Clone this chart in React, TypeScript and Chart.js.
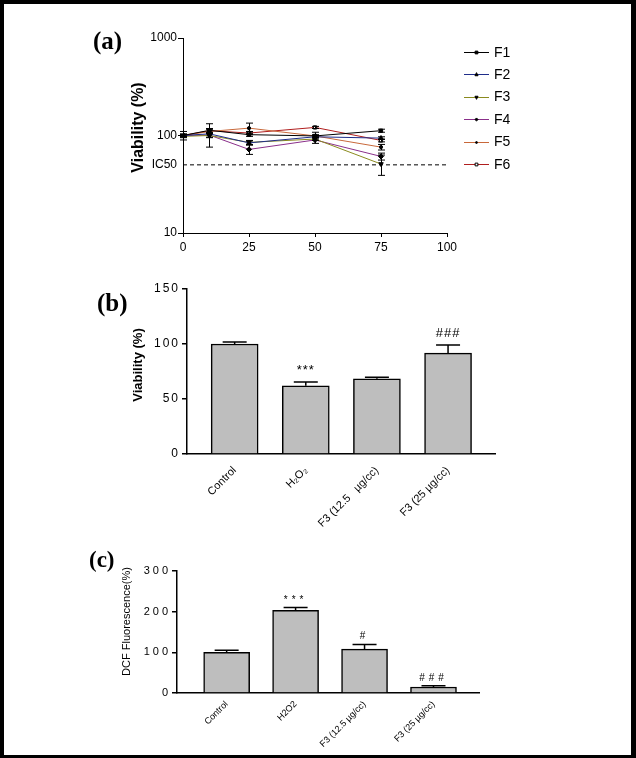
import React, { useEffect, useRef } from 'react';
import { Chart, registerables } from 'chart.js';

Chart.register(...registerables);
Chart.defaults.font.family = "'Liberation Sans', Arial, sans-serif";
Chart.defaults.color = '#000';

// ---------- Panel (a) data ----------
const doseX = [0, 10, 25, 50, 75];
const seriesNames = ['F1', 'F2', 'F3', 'F4', 'F5', 'F6'];
const f1 = [100, 113, 102, 99, 112];
const f2 = [100, 104, 84, 97, 94];
const f3 = [98, 100, 85, 92, 51];
const f4 = [100, 101, 72, 90, 61];
const f5 = [100, 110, 119, 99, 76];
const f6 = [100, 112, 106, 121, 89];
const f1Err = [10, 5, 4, 3, 4];
const f2Err = [3, 28, 4, 3, 3];
const f3Err = [3, 5, 4, 3, 12];
const f4Err = [3, 5, 8, 7, 5];
const f5Err = [3, 6, 15, 9, 5];
const f6Err = [3, 5, 4, 3, 3];
const ic50 = 50;
const xTicksA = [0, 25, 50, 75, 100];
const yTicksA = [10, 50, 100, 1000];

// ---------- Panel (b) data ----------
const groupsB = ['Control', 'H\u2082O\u2082', 'F3 (12.5   \u00b5g/cc)', 'F3 (25 \u00b5g/cc)'];
const viabilityB = [100, 62, 68.3, 91.7];
const viabilityErrB = [1.8, 3.5, 1.5, 7.3];
const marksB = ['', '***', '', '###'];
const yTicksB = [0, 50, 100, 150];

// ---------- Panel (c) data ----------
const groupsC = ['Control', 'H2O2', 'F3 (12.5 \u00b5g/cc)', 'F3 (25 \u00b5g/cc)'];
const dcfC = [100, 203, 108, 14.7];
const dcfErrC = [5, 7, 11.5, 3];
const marksC = ['', '***', '#', '###'];
const yTicksC = [0, 100, 200, 300];

const seriesValues = [f1, f2, f3, f4, f5, f6];
const seriesErrors = [f1Err, f2Err, f3Err, f4Err, f5Err, f6Err];

// ---------- styles ----------
const lineStyle = {
  colors: ['#000000', '#1f2d8a', '#8a8a1e', '#8a2f8a', '#c8683a', '#b01e1e'],
  points: ['rect', 'triangle', 'triangle', 'rectRot', 'circle', 'rect'],
  rotations: [0, 0, 180, 0, 0, 0],
  radii: [2.3, 2.6, 2.6, 2.6, 1.6, 2.3],
  fills: ['#000', '#000', '#000', '#000', '#000', '#fff'],
};

function drawMarker(ctx: CanvasRenderingContext2D, style: string, x: number, y: number, r: number, rot: number, fill: string) {
  ctx.save();
  ctx.translate(x, y);
  ctx.rotate((rot * Math.PI) / 180);
  ctx.beginPath();
  if (style === 'rect') {
    ctx.rect(-r, -r, 2 * r, 2 * r);
  } else if (style === 'triangle') {
    ctx.moveTo(0, -r * 1.2);
    ctx.lineTo(r, r * 0.8);
    ctx.lineTo(-r, r * 0.8);
    ctx.closePath();
  } else if (style === 'rectRot') {
    ctx.moveTo(0, -r);
    ctx.lineTo(r, 0);
    ctx.lineTo(0, r);
    ctx.lineTo(-r, 0);
    ctx.closePath();
  } else {
    ctx.arc(0, 0, r, 0, Math.PI * 2);
  }
  ctx.fillStyle = fill;
  ctx.fill();
  ctx.strokeStyle = '#000';
  ctx.lineWidth = 1;
  ctx.stroke();
  ctx.restore();
}

const lineErrorBars = {
  id: 'lineErrorBars',
  afterDatasetsDraw(chart: any) {
    const { ctx, scales } = chart;
    const x = scales.x;
    const y = scales.y;
    ctx.save();
    ctx.strokeStyle = '#000';
    ctx.lineWidth = 1;
    chart.data.datasets.forEach((ds: any) => {
      if (!ds.errors) return;
      ds.data.forEach((p: any, j: number) => {
        const e = ds.errors[j];
        if (!e) return;
        const px = Math.round(x.getPixelForValue(p.x)) + 0.5;
        const top = y.getPixelForValue(p.y + e);
        const bot = y.getPixelForValue(p.y - e);
        ctx.beginPath();
        ctx.moveTo(px, top);
        ctx.lineTo(px, bot);
        ctx.moveTo(px - 3.5, top);
        ctx.lineTo(px + 3.5, top);
        ctx.moveTo(px - 3.5, bot);
        ctx.lineTo(px + 3.5, bot);
        ctx.stroke();
      });
    });
    ctx.restore();
  },
};

const seriesLegend = {
  id: 'seriesLegend',
  afterDraw(chart: any) {
    const o = chart.options.plugins.seriesLegend;
    if (!o) return;
    const { ctx } = chart;
    ctx.save();
    seriesNames.forEach((name, i) => {
      const yy = o.top + i * o.step;
      ctx.strokeStyle = lineStyle.colors[i];
      ctx.lineWidth = 1;
      ctx.beginPath();
      ctx.moveTo(o.left, Math.round(yy) + 0.5);
      ctx.lineTo(o.left + o.lineLen, Math.round(yy) + 0.5);
      ctx.stroke();
      drawMarker(ctx, lineStyle.points[i], o.left + o.lineLen / 2, Math.round(yy) + 0.5, lineStyle.radii[i] * 0.6, lineStyle.rotations[i], lineStyle.fills[i]);
      ctx.fillStyle = '#000';
      ctx.font = o.font;
      ctx.textAlign = 'left';
      ctx.textBaseline = 'middle';
      ctx.fillText(name, o.left + o.lineLen + o.gap, yy + 1);
    });
    ctx.restore();
  },
};

const barExtras = {
  id: 'barExtras',
  afterDatasetsDraw(chart: any) {
    const o = chart.options.plugins.barExtras;
    if (!o) return;
    const { ctx, scales } = chart;
    const x = scales.x;
    const y = scales.y;
    ctx.save();
    ctx.strokeStyle = '#000';
    ctx.lineWidth = 1.5;
    chart.data.datasets.forEach((ds: any) => {
      ds.data.forEach((p: any, j: number) => {
        const e = ds.errors[j];
        const px = x.getPixelForValue(p.x);
        const base = y.getPixelForValue(p.y);
        const top = y.getPixelForValue(p.y + e);
        ctx.beginPath();
        ctx.moveTo(px, base);
        ctx.lineTo(px, top);
        ctx.moveTo(px - o.capHalf, top);
        ctx.lineTo(px + o.capHalf, top);
        ctx.stroke();
      });
    });
    ctx.restore();
    // spacing for the y tick labels (drawn after datasets)
    (ctx as any).letterSpacing = o.tickSpacing;
  },
  afterDraw(chart: any) {
    const o = chart.options.plugins.barExtras;
    if (!o) return;
    const { ctx, scales } = chart;
    (ctx as any).letterSpacing = '0px';
    const x = scales.x;
    const y = scales.y;
    ctx.save();
    ctx.fillStyle = '#000';
    ctx.font = o.markFont;
    (ctx as any).letterSpacing = o.markSpacing;
    ctx.textAlign = 'center';
    ctx.textBaseline = 'alphabetic';
    chart.data.datasets.forEach((ds: any) => {
      ds.data.forEach((p: any, j: number) => {
        const m = ds.marks[j];
        if (!m) return;
        const px = x.getPixelForValue(p.x);
        const top = y.getPixelForValue(p.y + ds.errors[j]);
        ctx.fillText(m, px, top - o.markOffset);
      });
    });
    ctx.restore();
    (ctx as any).letterSpacing = '0px';
  },
};

const staticText = {
  id: 'staticText',
  afterDraw(chart: any) {
    const o = chart.options.plugins.staticText;
    if (!o) return;
    const { ctx } = chart;
    o.items.forEach((it: any) => {
      ctx.save();
      ctx.fillStyle = '#000';
      ctx.font = it.font;
      ctx.translate(it.x, it.y);
      if (it.rotate) ctx.rotate(it.rotate);
      ctx.textAlign = it.align || 'center';
      ctx.textBaseline = it.baseline || 'middle';
      ctx.fillText(it.text, 0, 0);
      ctx.restore();
    });
  },
};

function lineConfig(): any {
  const datasets: any[] = seriesNames.map((name, i) => ({
    label: name,
    data: doseX.map((x, j) => ({ x, y: seriesValues[i][j] })),
    errors: seriesErrors[i],
    borderColor: lineStyle.colors[i],
    borderWidth: 1,
    pointStyle: lineStyle.points[i],
    pointRotation: lineStyle.rotations[i],
    pointRadius: lineStyle.radii[i],
    pointBackgroundColor: lineStyle.fills[i],
    pointBorderColor: '#000',
    pointBorderWidth: 1,
    tension: 0,
    fill: false,
  }));
  datasets.push({
    label: 'IC50',
    data: [
      { x: xTicksA[0], y: ic50 },
      { x: xTicksA[xTicksA.length - 1], y: ic50 },
    ],
    borderColor: '#000',
    borderWidth: 1,
    borderDash: [4, 3],
    pointRadius: 0,
    fill: false,
  });
  return {
    type: 'line',
    data: { datasets },
    plugins: [lineErrorBars, seriesLegend, staticText],
    options: {
      animation: false,
      responsive: false,
      maintainAspectRatio: false,
      layout: { padding: { left: 0, top: 38, right: 189, bottom: 0 } },
      scales: {
        x: {
          type: 'linear',
          min: 0,
          max: 100,
          afterBuildTicks: (s: any) => {
            s.ticks = xTicksA.map((v) => ({ value: v }));
          },
          afterFit: (s: any) => {
            s.height = 37;
          },
          ticks: { font: { size: 12 }, padding: 3, maxRotation: 0, color: '#000' },
          grid: { drawOnChartArea: false, drawTicks: true, tickLength: 4, color: '#000' },
          border: { color: '#000', width: 1 },
        },
        y: {
          type: 'logarithmic',
          min: 10,
          max: 1000,
          afterBuildTicks: (s: any) => {
            s.ticks = yTicksA.map((v) => ({ value: v }));
          },
          afterFit: (s: any) => {
            s.width = 183;
          },
          ticks: {
            font: { size: 12 },
            padding: 1,
            color: '#000',
            callback: (v: any) => (v === ic50 ? 'IC50' : String(v)),
          },
          grid: {
            drawOnChartArea: false,
            drawTicks: true,
            tickLength: 5,
            color: (c: any) => (c.tick && c.tick.value === ic50 ? 'rgba(0,0,0,0)' : '#000'),
          },
          border: { color: '#000', width: 1 },
        },
      },
      plugins: {
        legend: { display: false },
        tooltip: { enabled: false },
        seriesLegend: { left: 464, lineLen: 25, gap: 5, top: 51.7, step: 22.45, font: "14px 'Liberation Sans', Arial, sans-serif" },
        staticText: {
          items: [
            { text: '(a)', x: 93, y: 49, font: "bold 25px 'Liberation Serif', 'Times New Roman', serif", align: 'left', baseline: 'alphabetic' },
            { text: 'Viability (%)', x: 139, y: 127.5, rotate: -Math.PI / 2, font: "bold 16px 'Liberation Sans', Arial, sans-serif" },
          ],
        },
      },
    },
  };
}

function barConfig(groups: string[], values: number[], errs: number[], marks: string[], yTicks: number[], g: any, texts: any[]): any {
  return {
    type: 'bar',
    data: {
      datasets: [
        {
          data: values.map((v, i) => ({ x: i, y: v })),
          errors: errs,
          marks,
          backgroundColor: '#bebebe',
          borderColor: '#000',
          borderWidth: 1.5,
          barThickness: g.barThickness,
        },
      ],
    },
    plugins: [barExtras, staticText],
    options: {
      animation: false,
      responsive: false,
      maintainAspectRatio: false,
      layout: { padding: { left: 0, top: g.padTop, right: g.padRight, bottom: 0 } },
      scales: {
        x: {
          type: 'linear',
          offset: false,
          min: g.xMin,
          max: g.xMax,
          afterBuildTicks: (s: any) => {
            s.ticks = groups.map((_, i) => ({ value: i }));
          },
          afterFit: (s: any) => {
            s.height = g.xHeight;
          },
          ticks: {
            autoSkip: false,
            minRotation: 45,
            maxRotation: 45,
            padding: g.xPad,
            font: { size: g.xFont },
            color: '#000',
            callback: (_v: any, i: number) => groups[i],
          },
          grid: { display: false, drawTicks: false, offset: false },
          border: { display: true, color: '#000', width: 1.5 },
        },
        y: {
          type: 'linear',
          min: yTicks[0],
          max: yTicks[yTicks.length - 1],
          afterBuildTicks: (s: any) => {
            s.ticks = yTicks.map((v) => ({ value: v }));
          },
          afterFit: (s: any) => {
            s.width = g.yWidth;
          },
          ticks: { z: 1, padding: g.yPad, font: { size: g.yFont }, color: '#000' },
          grid: { drawOnChartArea: false, drawTicks: true, tickLength: 5, color: '#000', lineWidth: 1.5 },
          border: { color: '#000', width: 1.5 },
        },
      },
      plugins: {
        legend: { display: false },
        tooltip: { enabled: false },
        barExtras: {
          capHalf: 12,
          markOffset: g.markOffset,
          markFont: g.markFont,
          markSpacing: g.markSpacing,
          tickSpacing: g.tickSpacing,
        },
        staticText: { items: texts },
      },
    },
  };
}

export default function App() {
  const refA = useRef<HTMLCanvasElement | null>(null);
  const refB = useRef<HTMLCanvasElement | null>(null);
  const refC = useRef<HTMLCanvasElement | null>(null);

  useEffect(() => {
    const charts: Chart[] = [];
    if (refA.current) charts.push(new Chart(refA.current, lineConfig()));
    if (refB.current)
      charts.push(
        new Chart(
          refB.current,
          barConfig(
            groupsB,
            viabilityB,
            viabilityErrB,
            marksB,
            yTicksB,
            {
              padTop: 19,
              padRight: 141,
              yWidth: 187,
              xHeight: 86,
              xMin: -0.67,
              xMax: 3.66,
              barThickness: 47,
              xPad: 10,
              xFont: 11,
              yFont: 12,
              yPad: 2,
              markOffset: 8,
              markFont: "13px 'Liberation Sans', Arial, sans-serif",
              markSpacing: '1px',
              tickSpacing: '2px',
            },
            [
              { text: '(b)', x: 97, y: 41, font: "bold 25px 'Liberation Serif', 'Times New Roman', serif", align: 'left', baseline: 'alphabetic' },
              { text: 'Viability (%)', x: 138.5, y: 95, rotate: -Math.PI / 2, font: "bold 13px 'Liberation Sans', Arial, sans-serif" },
            ]
          )
        )
      );
    if (refC.current)
      charts.push(
        new Chart(
          refC.current,
          barConfig(
            groupsC,
            dcfC,
            dcfErrC,
            marksC,
            yTicksC,
            {
              padTop: 31,
              padRight: 157,
              yWidth: 177,
              xHeight: 65,
              xMin: -0.72,
              xMax: 3.66,
              barThickness: 46,
              xPad: 6,
              xFont: 9,
              yFont: 11,
              yPad: 1,
              markOffset: 5,
              markFont: "10px 'Liberation Sans', Arial, sans-serif",
              markSpacing: '4px',
              tickSpacing: '3px',
            },
            [
              { text: '(c)', x: 89, y: 27, font: "bold 23px 'Liberation Serif', 'Times New Roman', serif", align: 'left', baseline: 'alphabetic' },
              { text: 'DCF Fluorescence(%)', x: 126.7, y: 81.5, rotate: -Math.PI / 2, font: "11px 'Liberation Sans', Arial, sans-serif" },
            ]
          )
        )
      );
    return () => {
      charts.forEach((c) => c.destroy());
    };
  }, []);

  return (
    <div style={{ position: 'absolute', left: 0, top: 0, width: 636, height: 758, background: '#fff', overflow: 'hidden' }}>
      <canvas ref={refA} width={636} height={270} style={{ position: 'absolute', left: 0, top: 0, width: 636, height: 270 }} />
      <canvas ref={refB} width={636} height={270} style={{ position: 'absolute', left: 0, top: 270, width: 636, height: 270 }} />
      <canvas ref={refC} width={636} height={218} style={{ position: 'absolute', left: 0, top: 540, width: 636, height: 218 }} />
      <div
        style={{
          position: 'absolute',
          left: 0,
          top: 0,
          width: 636,
          height: 758,
          boxSizing: 'border-box',
          borderStyle: 'solid',
          borderColor: '#000',
          borderWidth: '4px 5px 3px 4px',
          pointerEvents: 'none',
        }}
      />
    </div>
  );
}
